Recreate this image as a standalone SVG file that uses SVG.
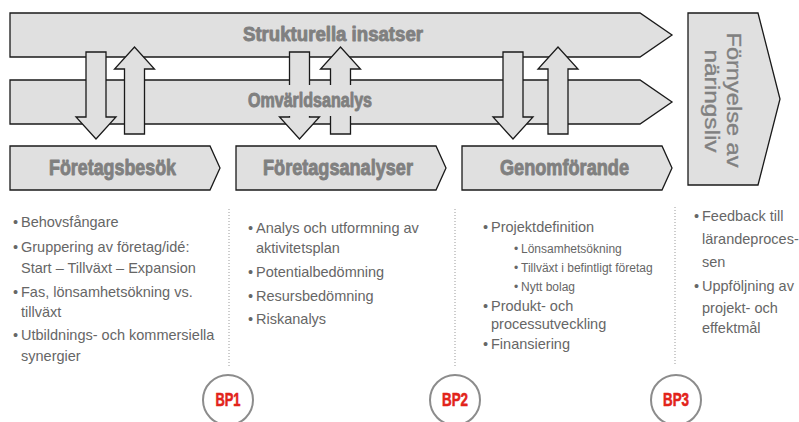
<svg xmlns="http://www.w3.org/2000/svg" width="799" height="422" viewBox="0 0 799 422">
<style>
.shape{fill:#e0e0e0;stroke:#1a1a1a;stroke-width:1.3;stroke-linejoin:miter}
.hd{font-family:"Liberation Sans",Arial,sans-serif;font-weight:bold;fill:#808080;stroke:#808080;stroke-width:0.9;stroke-linejoin:round}
.bt{font-family:"Liberation Sans",Arial,sans-serif;font-size:14.5px;fill:#666}
.sm{font-size:12px}
.dot{stroke:#9a9a9a;stroke-width:1;stroke-dasharray:1 2;fill:none}
.bpc{fill:#fff;stroke:#8c8c8c;stroke-width:2}
.bpt{font-family:"Liberation Sans",Arial,sans-serif;font-weight:bold;font-size:18px;fill:#e2231a;stroke:#e2231a;stroke-width:0.6;stroke-linejoin:round}
.rot{font-family:"Liberation Sans",Arial,sans-serif;font-size:21px;fill:#808080;stroke:#808080;stroke-width:0.35}
</style>
<rect width="799" height="422" fill="#fff"/>

<g id="strukturella-insatser">
<polygon class="shape" points="10,13 640,13 672,35 640,57 10,57"/>
<text class="hd" x="243" y="41" font-size="19.5" textLength="180" lengthAdjust="spacingAndGlyphs">Strukturella insatser</text>
</g>

<g id="omvarldsanalys">
<polygon class="shape" points="10,80 640,80 672,102 640,124 10,124"/>
</g>

<g id="connectors">
<polygon class="shape" points="86,52 106,52 106,117 116,117 96,139 76,117 86,117"/>
<polygon class="shape" points="124.5,134 144.5,134 144.5,69 154.5,69 134.5,47 114.5,69 124.5,69"/>
<polygon class="shape" points="289.5,52 309.5,52 309.5,117 319.5,117 299.5,139 279.5,117 289.5,117"/>
<polygon class="shape" points="330.5,134 350.5,134 350.5,69 360.5,69 340.5,47 320.5,69 330.5,69"/>
<polygon class="shape" points="503,52 523,52 523,117 533,117 513,139 493,117 503,117"/>
<polygon class="shape" points="548,134 568,134 568,69 578,69 558,47 538,69 548,69"/>
</g>

<g id="omvarldsanalys-label">
<rect x="244" y="85" width="132" height="31" fill="#e0e0e0"/>
<text class="hd" x="248" y="107" font-size="19.5" textLength="124" lengthAdjust="spacingAndGlyphs">Omvärldsanalys</text>
</g>

<g id="foretagsbesok">
<polygon class="shape" points="10,146 210,146 220,168 210,190 10,190"/>
<text class="hd" x="49" y="175" font-size="21.5" textLength="127" lengthAdjust="spacingAndGlyphs">Företagsbesök</text>
</g>

<g id="foretagsanalyser">
<polygon class="shape" points="236,146 436,146 446,168 436,190 236,190"/>
<text class="hd" x="263" y="175" font-size="21.5" textLength="150" lengthAdjust="spacingAndGlyphs">Företagsanalyser</text>
</g>

<g id="genomforande">
<polygon class="shape" points="462,146 662,146 672,168 662,190 462,190"/>
<text class="hd" x="500" y="175" font-size="21.5" textLength="129" lengthAdjust="spacingAndGlyphs">Genomförande</text>
</g>

<g id="fornyelse">
<polygon class="shape" points="688,13 758,13 780,99 758,185 688,185"/>
<text class="rot" transform="rotate(90)" x="100" y="-727" text-anchor="middle" textLength="135" lengthAdjust="spacingAndGlyphs">Förnyelse av</text>
<text class="rot" transform="rotate(90)" x="101" y="-705" text-anchor="middle" textLength="103" lengthAdjust="spacingAndGlyphs">näringsliv</text>
</g>

<g id="dividers">
<line class="dot" x1="229" y1="209" x2="229" y2="366"/>
<line class="dot" x1="455" y1="209" x2="455" y2="366"/>
<line class="dot" x1="675" y1="207" x2="675" y2="366"/>
</g>

<g id="col1" class="bt">
<text x="13" y="227">•</text><text x="21" y="227">Behovsfångare</text>
<text x="13" y="252">•</text><text x="21" y="252">Gruppering av företag/idé:</text>
<text x="21" y="273">Start – Tillväxt – Expansion</text>
<text x="13" y="297">•</text><text x="21" y="297">Fas, lönsamhetsökning vs.</text>
<text x="21" y="317">tillväxt</text>
<text x="13" y="340">•</text><text x="21" y="340">Utbildnings- och kommersiella</text>
<text x="21" y="361">synergier</text>
</g>

<g id="col2" class="bt">
<text x="248" y="233">•</text><text x="256" y="233">Analys och utformning av</text>
<text x="256" y="253">aktivitetsplan</text>
<text x="248" y="277">•</text><text x="256" y="277">Potentialbedömning</text>
<text x="248" y="301">•</text><text x="256" y="301">Resursbedömning</text>
<text x="248" y="324">•</text><text x="256" y="324">Riskanalys</text>
</g>

<g id="col3" class="bt">
<text x="483" y="232">•</text><text x="491" y="232">Projektdefinition</text>
<text class="sm" x="514" y="253">•</text><text class="sm" x="521" y="253">Lönsamhetsökning</text>
<text class="sm" x="514" y="272">•</text><text class="sm" x="521" y="272">Tillväxt i befintligt företag</text>
<text class="sm" x="514" y="291">•</text><text class="sm" x="521" y="291">Nytt bolag</text>
<text x="483" y="311">•</text><text x="491" y="311">Produkt- och</text>
<text x="491" y="329">processutveckling</text>
<text x="483" y="349">•</text><text x="491" y="349">Finansiering</text>
</g>

<g id="col4" class="bt">
<text x="694" y="221">•</text><text x="702" y="221">Feedback till</text>
<text x="702" y="244">lärandeproces-</text>
<text x="702" y="267">sen</text>
<text x="694" y="291">•</text><text x="702" y="291">Uppföljning av</text>
<text x="702" y="313">projekt- och</text>
<text x="702" y="333">effektmål</text>
</g>

<g id="bp1">
<circle class="bpc" cx="228" cy="400" r="25"/>
<text class="bpt" x="228" y="406" text-anchor="middle" textLength="25" lengthAdjust="spacingAndGlyphs">BP1</text>
</g>
<g id="bp2">
<circle class="bpc" cx="455" cy="400" r="25"/>
<text class="bpt" x="455" y="406" text-anchor="middle" textLength="26" lengthAdjust="spacingAndGlyphs">BP2</text>
</g>
<g id="bp3">
<circle class="bpc" cx="676" cy="400" r="25"/>
<text class="bpt" x="676" y="406" text-anchor="middle" textLength="26" lengthAdjust="spacingAndGlyphs">BP3</text>
</g>
</svg>
